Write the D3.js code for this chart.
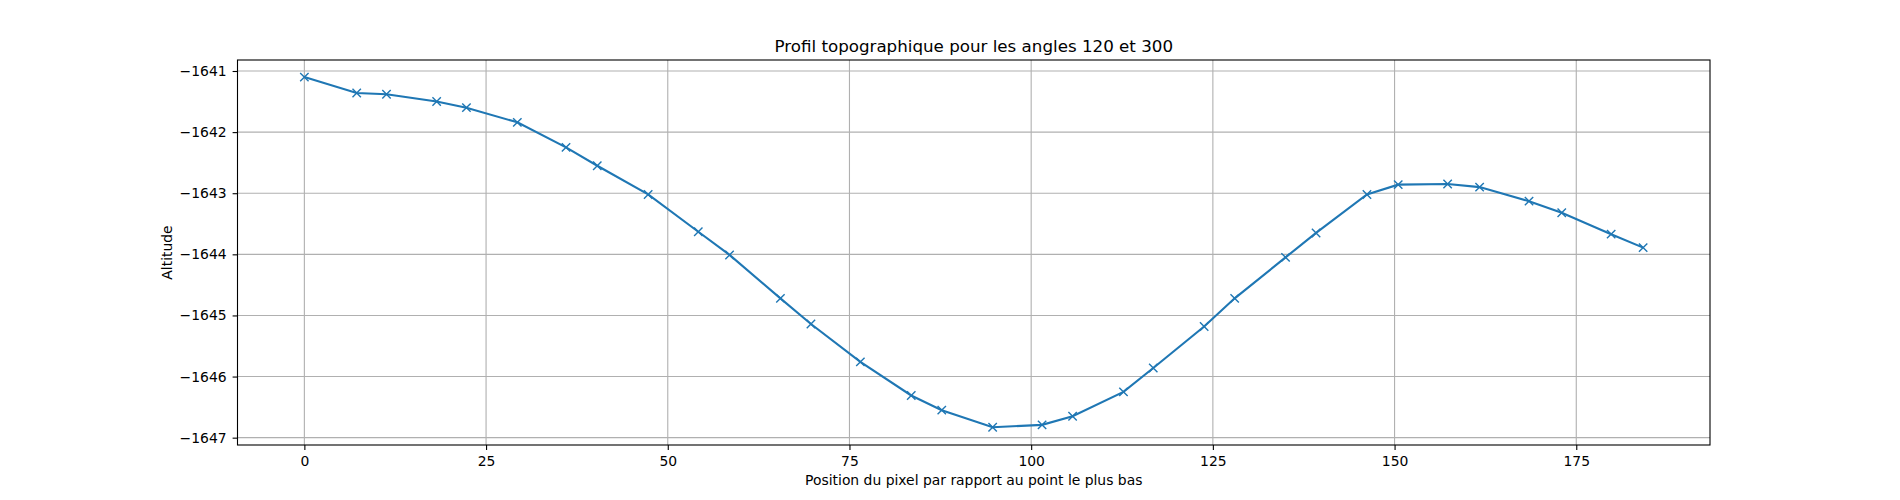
<!DOCTYPE html>
<html><head><meta charset="utf-8">
<script src="https://cdn.jsdelivr.net/npm/d3@7"></script>
<style>body{margin:0;background:#fff}text{font-family:"DejaVu Sans",sans-serif}</style>
</head><body><svg width="1900" height="500"></svg>
<script>
const positions = [0,7.2,11.3,18.2,22.3,29.3,36,40.3,47.3,54.2,58.5,65.5,69.7,76.5,83.5,87.7,94.7,101.5,105.7,112.7,116.8,123.8,128,135,139.2,146.2,150.5,157.3,161.7,168.5,173,179.8,184.2];
const altitudes = [-1641.1,-1641.36,-1641.38,-1641.5,-1641.6,-1641.84,-1642.25,-1642.55,-1643.02,-1643.63,-1644.01,-1644.72,-1645.14,-1645.76,-1646.31,-1646.55,-1646.83,-1646.79,-1646.65,-1646.25,-1645.86,-1645.18,-1644.72,-1644.05,-1643.65,-1643.02,-1642.86,-1642.85,-1642.9,-1643.13,-1643.32,-1643.67,-1643.89];
const xTicks = [0,25,50,75,100,125,150,175];
const yTicks = [-1641,-1642,-1643,-1644,-1645,-1646,-1647];

const svg = d3.select("svg");
const L = 237.5, R = 1710, T = 60, B = 445;
const x = d3.scaleLinear().domain([-9.2, 193.4]).range([L, R]);
const y = d3.scaleLinear().domain([-1647.12, -1640.82]).range([B, T]);

// grid
svg.append("g").selectAll("line").data(xTicks).join("line")
  .attr("x1", d => x(d)).attr("x2", d => x(d)).attr("y1", T).attr("y2", B)
  .attr("stroke", "#b0b0b0").attr("stroke-width", 1.1);
svg.append("g").selectAll("line").data(yTicks).join("line")
  .attr("y1", d => y(d)).attr("y2", d => y(d)).attr("x1", L).attr("x2", R)
  .attr("stroke", "#b0b0b0").attr("stroke-width", 1.1);

const xa = svg.append("g").attr("transform", `translate(0,${B})`)
  .call(d3.axisBottom(x).tickValues(xTicks).tickSize(4.9).tickPadding(6));
const ya = svg.append("g").attr("transform", `translate(${L},0)`)
  .call(d3.axisLeft(y).tickValues(yTicks).tickSize(4.9).tickPadding(6).tickFormat(d => "\u2212" + Math.abs(d)));
[xa, ya].forEach(a => { a.select(".domain").remove(); a.selectAll("text").attr("font-size", 13.9).attr("fill", "#000"); a.selectAll("line").attr("stroke", "#000").attr("stroke-width", 1.1); });

svg.append("rect").attr("x", L).attr("y", T).attr("width", R - L).attr("height", B - T)
  .attr("fill", "none").attr("stroke", "#000").attr("stroke-width", 1.1);

const pts = positions.map((p, i) => [p, altitudes[i]]);
svg.append("path").datum(pts)
  .attr("d", d3.line().x(d => x(d[0])).y(d => y(d[1])))
  .attr("fill", "none").attr("stroke", "#1f77b4").attr("stroke-width", 2.1);
svg.append("g").selectAll("path").data(pts).join("path")
  .attr("transform", d => `translate(${x(d[0])},${y(d[1])})`)
  .attr("d", "M-4.2,-4.2L4.2,4.2M-4.2,4.2L4.2,-4.2")
  .attr("stroke", "#1f77b4").attr("stroke-width", 1.4);

svg.append("text").attr("x", (L + R) / 2).attr("y", 52).attr("text-anchor", "middle")
  .attr("font-size", 16.7).text("Profil topographique pour les angles 120 et 300");
svg.append("text").attr("x", (L + R) / 2).attr("y", 485).attr("text-anchor", "middle")
  .attr("font-size", 13.9).text("Position du pixel par rapport au point le plus bas");
svg.append("text").attr("transform", `translate(172,${(T + B) / 2}) rotate(-90)`)
  .attr("text-anchor", "middle").attr("font-size", 13.9).text("Altitude");
</script></body></html>
